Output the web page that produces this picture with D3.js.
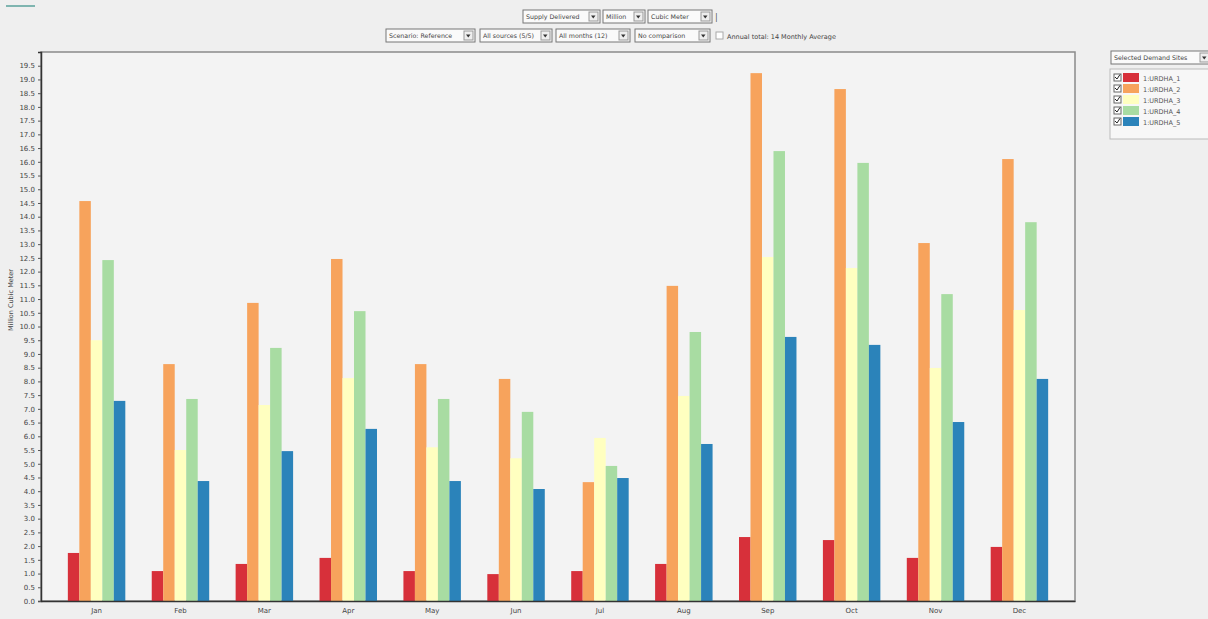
<!DOCTYPE html>
<html>
<head>
<meta charset="utf-8">
<script src="https://cdn.jsdelivr.net/npm/d3@7"></script>
<style>
  body { margin: 0; background: #efefef; font-family: "DejaVu Sans", sans-serif; }
  svg { display: block; }
</style>
</head>
<body>
<svg id="chart" width="1208" height="619"></svg>
<script>
// chart data (million cubic meter)
var months = ["Jan", "Feb", "Mar", "Apr", "May", "Jun", "Jul", "Aug", "Sep", "Oct", "Nov", "Dec"]
var siteNames = ["1:URDHA_1", "1:URDHA_2", "1:URDHA_3", "1:URDHA_4", "1:URDHA_5"]
var siteColors = ["#d7303a", "#f7a35c", "#ffffc0", "#a8dca2", "#2b83ba"]
var site1 = [1.75, 1.09, 1.35, 1.57, 1.09, 0.98, 1.09, 1.35, 2.33, 2.22, 1.57, 1.97]
var site2 = [14.57, 8.63, 10.86, 12.46, 8.63, 8.09, 4.33, 11.48, 19.23, 18.65, 13.04, 16.10]
var site3 = [9.50, 5.50, 7.14, 8.12, 5.60, 5.20, 5.94, 7.47, 12.53, 12.13, 8.49, 10.60]
var site4 = [12.42, 7.36, 9.22, 10.56, 7.36, 6.89, 4.92, 9.80, 16.39, 15.96, 11.18, 13.80]
var site5 = [7.29, 4.37, 5.46, 6.27, 4.37, 4.08, 4.48, 5.72, 9.62, 9.33, 6.52, 8.09]
var yTicks = d3.range(0, 40).map(function(i){ return i * 0.5 })
var yLabel = "Million Cubic Meter"

var series = [site1, site2, site3, site4, site5]

var svg = d3.select("#chart")

var plot = {left: 41, right: 1075, top: 52, bottom: 601}

/* plot frame */
svg.append("rect")
  .attr("x", plot.left).attr("y", plot.top)
  .attr("width", plot.right - plot.left).attr("height", plot.bottom - plot.top)
  .attr("fill", "#f3f3f3")
  .attr("stroke", "#8a8a8a")
  .attr("stroke-width", 1.5)

var xScale = d3.scaleBand()
  .domain(months)
  .range([plot.left, plot.right])
  .paddingInner(0.315)
  .paddingOuter(0.32)

var xInner = d3.scaleBand()
  .domain(d3.range(series.length))
  .range([0, xScale.bandwidth()])

var yScale = d3.scaleLinear()
  .domain([0, 20])
  .range([plot.bottom, plot.top])

// bars
var groups = svg.selectAll(".month")
    .data(months)
  .enter().append("g")
    .attr("class", "month")
    .attr("transform", function(d){ return "translate(" + xScale(d) + ",0)" })

groups.selectAll("rect")
    .data(function(d, i){ return series.map(function(s, j){ return {site: j, value: s[i]} }) })
  .enter().append("rect")
    .attr("x", function(d){ return xInner(d.site) })
    .attr("width", xInner.bandwidth())
    .attr("y", function(d){ return yScale(d.value) })
    .attr("height", function(d){ return yScale(0) - yScale(d.value) })
    .attr("fill", function(d){ return siteColors[d.site] })

/* axes */
var yAxis = d3.axisLeft(yScale)
  .tickValues(yTicks)
  .tickSize(3)
  .tickFormat(d3.format(".1f"))

svg.append("g")
    .attr("class", "y-axis")
    .attr("transform", "translate(" + plot.left + ",0)")
    .call(yAxis)
    .call(function(g){
      g.select(".domain").attr("stroke", "#333").attr("stroke-width", 1.5)
      g.selectAll(".tick line").attr("stroke", "#555")
      g.selectAll(".tick text").attr("font-size", 7).attr("fill", "#444")
        .attr("font-family", "DejaVu Sans")
    })

var xAxis = d3.axisBottom(xScale).tickSize(0).tickPadding(7)
svg.append("g")
    .attr("class", "x-axis")
    .attr("transform", "translate(0," + plot.bottom + ")")
    .call(xAxis)
    .call(function(g){
      g.select(".domain").attr("stroke", "#333").attr("stroke-width", 1.5)
      g.selectAll(".tick text").attr("font-size", 7).attr("fill", "#444")
        .attr("font-family", "DejaVu Sans")
    })

svg.append("text")
  .attr("transform", "translate(13,300) rotate(-90)")
  .attr("text-anchor", "middle")
  .attr("font-size", 6.5)
  .attr("fill", "#444")
  .text(yLabel)

/* drop down controls on top */
var drawSelect = function(x, y, w, label){
  var g = svg.append("g").attr("transform", "translate(" + x + "," + y + ")")
  g.append("rect").attr("width", w).attr("height", 13)
    .attr("fill", "#fafafa").attr("stroke", "#777")
  g.append("text").attr("x", 3).attr("y", 9.3)
    .attr("font-size", 6.3).attr("fill", "#444").text(label)
  g.append("rect").attr("x", w - 11).attr("y", 2).attr("width", 9).attr("height", 9)
    .attr("fill", "#eee").attr("stroke", "#999")
  g.append("path").attr("d", "M" + (w - 9) + ",5.5 L" + (w - 4.5) + ",5.5 L" + (w - 6.75) + ",8.5 Z")
    .attr("fill", "#333")
}

drawSelect(523, 10, 77, "Supply Delivered")
drawSelect(603, 10, 42, "Million")
drawSelect(648, 10, 64, "Cubic Meter")
svg.append("text").attr("x", 715).attr("y", 20).attr("font-size", 8).attr("fill", "#555").text("|")

drawSelect(386, 29, 89, "Scenario: Reference")
drawSelect(480, 29, 72, "All sources (5/5)")
drawSelect(556, 29, 74, "All months (12)")
drawSelect(635, 29, 75, "No comparison")
svg.append("rect").attr("x", 716).attr("y", 32).attr("width", 7).attr("height", 7)
  .attr("fill", "#fff").attr("stroke", "#aaa")
svg.append("text").attr("x", 727).attr("y", 39).attr("font-size", 6.5).attr("fill", "#444")
  .text("Annual total: 14  Monthly Average")

/* legend */
drawSelect(1111, 51, 100, "Selected Demand Sites")
svg.append("rect").attr("x", 1110).attr("y", 69).attr("width", 110).attr("height", 70)
  .attr("fill", "#f7f7f7").attr("stroke", "#bbb")

var legend = svg.selectAll(".legend-row")
    .data(siteNames)
  .enter().append("g")
    .attr("class", "legend-row")
    .attr("transform", function(d, i){ return "translate(1114," + (73 + i * 11) + ")" })

legend.append("rect").attr("width", 7).attr("height", 7).attr("y", 1)
  .attr("fill", "#fff").attr("stroke", "#666")
legend.append("path").attr("d", "M1,4 L3,6 L6,1.5").attr("fill", "none").attr("stroke", "#222")
legend.append("rect").attr("x", 9).attr("width", 16).attr("height", 9)
  .attr("fill", function(d, i){ return siteColors[i] })
legend.append("text").attr("x", 29).attr("y", 7.5)
  .attr("font-size", 6.5).attr("fill", "#555")
  .text(function(d){ return d })

// small mark at top left corner
svg.append("rect").attr("x", 6).attr("y", 5).attr("width", 29).attr("height", 2).attr("fill", "#7fb5b0")
</script>
</body>
</html>
